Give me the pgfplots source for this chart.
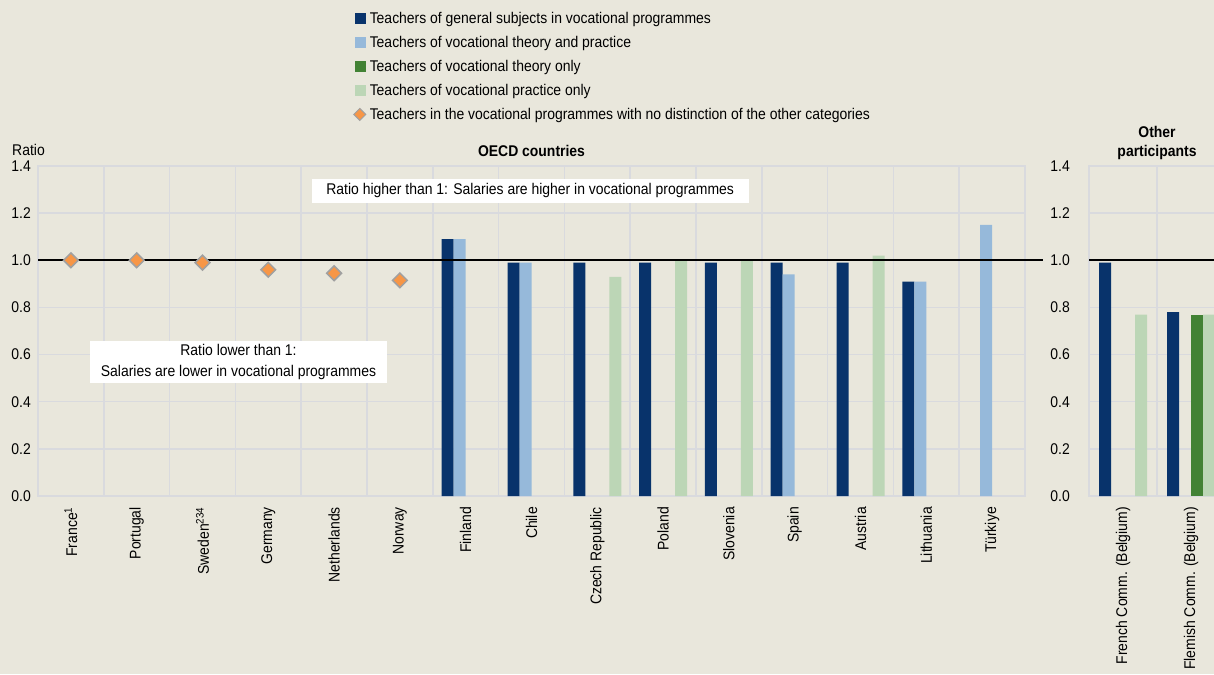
\documentclass[border=0pt]{standalone}
\usepackage{pgfplots}
\pgfplotsset{compat=1.18}
\usepackage{fontspec}
\setmainfont{Liberation Sans}[FakeStretch=0.9]
\definecolor{bgc}{RGB}{233,231,220}
\definecolor{gridc}{RGB}{217,218,222}
\definecolor{cdark}{RGB}{8,51,107}
\definecolor{clight}{RGB}{150,185,218}
\definecolor{cgreen}{RGB}{66,130,52}
\definecolor{clgreen}{RGB}{188,214,182}
\definecolor{corange}{RGB}{247,150,70}
\definecolor{cgray}{RGB}{160,160,160}
\newcommand{\fs}{\fontsize{15.5}{18.6}\selectfont}
\pgfplotsset{
  panel/.style={
    scale only axis, height=330pt, ymin=0, ymax=1.4,
    ytick={0,0.2,0.4,0.6,0.8,1.0,1.2,1.4},
    yticklabel style={/pgf/number format/fixed, /pgf/number format/fixed zerofill,
      /pgf/number format/precision=1, /pgf/number format/assume math mode=true},
    tick label style={font=\fs},
    axis line style={draw=gridc, line width=1.5pt},
    major tick length=0pt, minor tick length=0pt,
    ymajorgrids, xminorgrids,
    grid style={gridc, line width=1.5pt},
    minor grid style={gridc, line width=1.5pt},
    xticklabel style={rotate=90, anchor=east, inner sep=0pt},
    xticklabel shift=11pt,
    yticklabel style={inner sep=0pt},
    clip=false,
    title style={font=\fs\bfseries, align=center, at={(0.5,1)}, anchor=base, inner sep=0pt},
  }
}
\begin{document}
\begin{tikzpicture}
\fill[bgc] (0,0) rectangle (1214pt,-674pt);
% ---------------- OECD panel ----------------
\begin{axis}[panel,
  at={(38pt,-496pt)}, anchor=south west, width=987pt,
  xmin=-0.5, xmax=14.5,
  xtick={0,...,14},
  minor xtick={0.5,1.5,...,13.5},
  xticklabels={France\textsuperscript{1},Portugal,Sweden\textsuperscript{234},Germany,Netherlands,Norway,Finland,Chile,Czech Republic,Poland,Slovenia,Spain,Austria,Lithuania,Türkiye},
  yticklabel shift=7pt,
  title={OECD countries}, title style={yshift=4pt},
  legend cell align=left,
  legend style={at={(0.3192,1.4697)}, anchor=north west, draw=none, fill=none,
    inner sep=0pt, font=\fs, row sep=7.5pt,
    nodes={inner sep=1pt, text height=11pt, text depth=3.5pt}},
]
\addlegendimage{legend image code/.code={\fill[cdark] (0pt,-4pt) rectangle (10pt,6pt); \path[draw=none,fill=none] (0pt,0pt) rectangle (14pt,0.1pt);}}
\addlegendentry{Teachers of general subjects in vocational programmes}
\addlegendimage{legend image code/.code={\fill[clight] (0pt,-4pt) rectangle (10pt,6pt); \path[draw=none,fill=none] (0pt,0pt) rectangle (14pt,0.1pt);}}
\addlegendentry{Teachers of vocational theory and practice}
\addlegendimage{legend image code/.code={\fill[cgreen] (0pt,-4pt) rectangle (10pt,6pt); \path[draw=none,fill=none] (0pt,0pt) rectangle (14pt,0.1pt);}}
\addlegendentry{Teachers of vocational theory only}
\addlegendimage{legend image code/.code={\fill[clgreen] (0pt,-4pt) rectangle (10pt,6pt); \path[draw=none,fill=none] (0pt,0pt) rectangle (14pt,0.1pt);}}
\addlegendentry{Teachers of vocational practice only}
\addlegendimage{legend image code/.code={\filldraw[fill=corange, draw=cgray, line width=1pt] (5pt,-5pt) -- (11pt,1pt) -- (5pt,7pt) -- (-1pt,1pt) -- cycle; \path[draw=none,fill=none] (0pt,0pt) rectangle (14pt,0.1pt);}}
\addlegendentry{Teachers in the vocational programmes with no distinction of the other categories}

\node[fill=white, minimum width=437pt, minimum height=24pt, inner sep=0pt, font=\fs]
  at (axis cs:6.98,1.294) {Ratio higher than 1: Salaries are higher in vocational programmes};
\node[fill=white, minimum width=297pt, minimum height=42pt, inner sep=0pt, align=center,
  font=\fontsize{15.5}{21.5}\selectfont]
  at (axis cs:2.547,0.569) {Ratio lower than 1:\\Salaries are lower in vocational programmes};
\node[anchor=west, font=\fs, inner sep=0pt] at ([xshift=-26pt,yshift=16pt]rel axis cs:0,1) {Ratio};

% general subjects
\addplot[ybar, bar width=12pt, bar shift=-18pt, fill=cdark, draw=none, forget plot]
  coordinates {(6,1.09) (7,0.99) (8,0.99) (9,0.99) (10,0.99) (11,0.99) (12,0.99) (13,0.91)};
% theory and practice
\addplot[ybar, bar width=12pt, bar shift=-6pt, fill=clight, draw=none, forget plot]
  coordinates {(6,1.09) (7,0.99) (11,0.94) (13,0.91) (14,1.15)};
% practice only
\addplot[ybar, bar width=12pt, bar shift=18pt, fill=clgreen, draw=none, forget plot]
  coordinates {(8,0.93) (9,1.00) (10,1.00) (12,1.02)};
% reference line
\addplot[black, line width=2pt, forget plot] coordinates {(-0.5,1) (14.77,1)};
% no distinction
\addplot[only marks, mark=square*, mark size=5.2pt, forget plot,
  mark options={rotate=45, fill=corange, draw=cgray, line width=1.5pt}]
  coordinates {(0,1.00) (1,1.00) (2,0.99) (3,0.96) (4,0.945) (5,0.915)};
\end{axis}
% ---------------- Other participants ----------------
\begin{axis}[panel,
  at={(1089pt,-496pt)}, anchor=south west, width=136pt,
  xmin=-0.5, xmax=1.5,
  xtick={0,1}, minor xtick={0.5},
  xticklabels={French Comm. (Belgium),Flemish Comm. (Belgium)},
  yticklabel shift=19pt,
  title={Other\\participants}, title style={yshift=4pt},
]
\addplot[ybar, bar width=12pt, bar shift=-18pt, fill=cdark, draw=none]
  coordinates {(0,0.99) (1,0.78)};
\addplot[ybar, bar width=12pt, bar shift=6pt, fill=cgreen, draw=none]
  coordinates {(1,0.77)};
\addplot[ybar, bar width=12pt, bar shift=18pt, fill=clgreen, draw=none]
  coordinates {(0,0.77) (1,0.77)};
\addplot[black, line width=2pt] coordinates {(-0.5,1) (1.5,1)};
\end{axis}
\pgfresetboundingbox
\path[use as bounding box] (0,0) rectangle (1214pt,-674pt);
\end{tikzpicture}
\end{document}
